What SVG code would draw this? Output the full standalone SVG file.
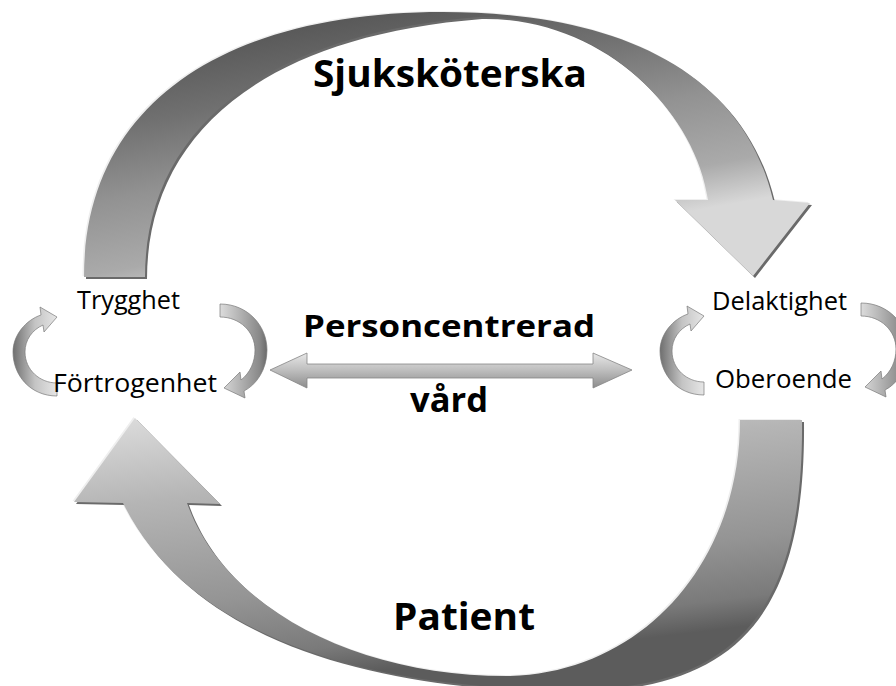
<svg xmlns="http://www.w3.org/2000/svg" xmlns:xlink="http://www.w3.org/1999/xlink" width="896" height="686" viewBox="0 0 896 686">
<style>
.lbl{font-family:"Open Sans","Liberation Sans",sans-serif;font-size:26px;fill:#000}
.big{font-family:"Open Sans","Liberation Sans",sans-serif;font-weight:bold;fill:#000}
.shadow{fill:#6a6a6a}
.hilite{fill:#efefef}
.loopL{fill:url(#gLoopL);stroke:#7a7a7a;stroke-width:0.7}
.loopR{fill:url(#gLoopR);stroke:#7a7a7a;stroke-width:0.7}
</style>
<defs>
<linearGradient id="gTop" gradientUnits="userSpaceOnUse" x1="200" y1="10" x2="250" y2="290">
<stop offset="0.08" stop-color="#555"/>
<stop offset="0.35" stop-color="#707070"/>
<stop offset="0.6" stop-color="#929292"/>
<stop offset="0.85" stop-color="#aaaaaa"/>
<stop offset="1" stop-color="#d8d8d8"/>
</linearGradient>
<linearGradient id="gBot" gradientUnits="userSpaceOnUse" x1="100" y1="410" x2="135" y2="700">
<stop offset="0" stop-color="#e0e0e0"/>
<stop offset="0.33" stop-color="#b5b5b5"/>
<stop offset="0.7" stop-color="#949494"/>
<stop offset="0.9" stop-color="#7a7a7a"/>
<stop offset="1" stop-color="#5c5c5c"/>
</linearGradient>
<linearGradient id="gDbl" x1="0" y1="0" x2="0" y2="1">
<stop offset="0" stop-color="#e8e8e8"/>
<stop offset="0.5" stop-color="#bdbdbd"/>
<stop offset="1" stop-color="#8c8c8c"/>
</linearGradient>
<linearGradient id="gLoopL" x1="0" y1="0" x2="1" y2="0">
<stop offset="0" stop-color="#6f6f6f"/>
<stop offset="0.5" stop-color="#c4c4c4"/>
<stop offset="1" stop-color="#e6e6e6"/>
</linearGradient>
<linearGradient id="gLoopR" x1="0" y1="0" x2="1" y2="0">
<stop offset="0" stop-color="#dcdcdc"/>
<stop offset="0.45" stop-color="#b0b0b0"/>
<stop offset="0.85" stop-color="#888"/>
<stop offset="1" stop-color="#6a6a6a"/>
</linearGradient>
<path id="topArrow" d="M84,277 C84,100 230,12 443,12 C600,12 740,60 773,200 L810,203 L753,276 L675,200 L708,200 C695,110 600,15 480,17 C250,35 145,140 145,277 Z"/>
<path id="botArrow" d="M802,420 C804,620 730,692 560,690 C420,688 200,660 123,503 L74,502 L135,418 L220,504 L187,503 C225,610 360,677 510,676 C645,672 740,560 740,420 Z"/>
<path id="loopA" d="M57,396 C30,396 13,375 13,352 C13,335 26,320 41,315 L40,307 L57,317 L44,332 L43,325 C32,330 25,340 25,352 C25,370 40,383 57,383 Z"/>
<path id="loopB" d="M220,304 C248,304 267,326 267,350 C267,370 256,385 244,391 L245,398 L224,388 L240,372 L241,380 C250,373 255,362 255,350 C255,332 240,317 220,317 Z"/>
</defs>
<rect width="896" height="686" fill="#fff"/>
<g id="connectors">
<g id="arrow-sjukskoterska">
<use xlink:href="#topArrow" class="hilite" transform="translate(-1.5,-1)"/>
<use xlink:href="#topArrow" class="shadow" transform="translate(2,2)"/>
<use xlink:href="#topArrow" fill="url(#gTop)"/>
</g>
<g id="arrow-patient">
<use xlink:href="#botArrow" class="hilite" transform="translate(-1.5,-1)"/>
<use xlink:href="#botArrow" class="shadow" transform="translate(2,2)"/>
<use xlink:href="#botArrow" fill="url(#gBot)"/>
</g>
<g id="arrow-personcentrerad">
<path d="M270,370 L307,353 L307,364 L593,364 L593,353 L632,370 L593,388 L593,378 L307,378 L307,388 Z" fill="url(#gDbl)" stroke="#858585" stroke-width="0.8"/>
</g>
<g id="loop-left">
<use xlink:href="#loopA" class="loopL"/>
<use xlink:href="#loopB" class="loopR"/>
</g>
<g id="loop-right">
<use xlink:href="#loopA" class="loopL" transform="translate(647,-1)"/>
<use xlink:href="#loopB" class="loopR" transform="translate(641,-1)"/>
</g>
</g>
<g id="node-sjukskoterska"><text class="big" x="313" y="87" font-size="37" textLength="274" lengthAdjust="spacingAndGlyphs">Sjuksköterska</text></g>
<g id="node-personcentrerad"><text class="big" x="303" y="337" font-size="31" textLength="292" lengthAdjust="spacingAndGlyphs">Personcentrerad</text>
<text class="big" x="410" y="412" font-size="34" textLength="78" lengthAdjust="spacingAndGlyphs">vård</text></g>
<g id="node-patient"><text class="big" x="393" y="630" font-size="38" textLength="142" lengthAdjust="spacingAndGlyphs">Patient</text></g>
<g id="node-trygghet"><text class="lbl" x="77" y="309" textLength="103" lengthAdjust="spacingAndGlyphs">Trygghet</text></g>
<g id="node-fortrogenhet"><text class="lbl" x="53" y="392" textLength="164" lengthAdjust="spacingAndGlyphs">Förtrogenhet</text></g>
<g id="node-delaktighet"><text class="lbl" x="712" y="310" textLength="135" lengthAdjust="spacingAndGlyphs">Delaktighet</text></g>
<g id="node-oberoende"><text class="lbl" x="715" y="388" textLength="137" lengthAdjust="spacingAndGlyphs">Oberoende</text></g>
</svg>
